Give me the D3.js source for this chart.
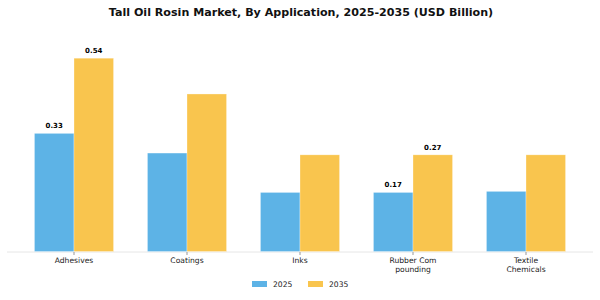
<!DOCTYPE html>
<html>
<head>
<meta charset="utf-8">
<script src="https://cdn.jsdelivr.net/npm/d3@7"></script>
<style>
  body { margin: 0; background: #fff; }
  svg { display: block; font-family: "DejaVu Sans", sans-serif; }
</style>
</head>
<body>
<div id="chart"></div>
<script>
// datos del gráfico
const categories = ['Adhesives', 'Coatings', 'Inks', 'Rubber Compounding', 'Textile Chemicals'];
const tickLines = [['Adhesives'], ['Coatings'], ['Inks'], ['Rubber Com', 'pounding'], ['Textile', 'Chemicals']];
const seriesNames = ['2025', '2035'];
const values2025 = [0.33, 0.275, 0.165, 0.165, 0.168];
const values2035 = [0.54, 0.44, 0.27, 0.27, 0.27];
// qué barras llevan etiqueta
const labeled = ['Adhesives', 'Rubber Compounding'];

const colors = { '2025': '#5DB3E6', '2035': '#F9C54E' };
const width = 600;
const height = 300;

const svg = d3.select('#chart').append('svg')
    .attr('width', width)
    .attr('height', height);

// título
svg.append('text')
    .attr('x', 301)
    .attr('y', 16)
    .attr('text-anchor', 'middle')
    .style('font-size', '11.1px')
    .style('font-weight', 'bold')
    .attr('fill', '#111')
    .text('Tall Oil Rosin Market, By Application, 2025-2035 (USD Billion)');

const x0 = d3.scaleBand()
    .domain(categories)
    .range([17.5, 582.5])
    .paddingInner(0.3)
    .paddingOuter(0.15);

const x1 = d3.scaleBand()
    .domain(seriesNames)
    .range([0, x0.bandwidth()]);

const y = d3.scaleLinear()
    .domain([0, 0.6])
    .range([251.5, 251.5 - 0.6 * 358]);

const rows = categories.map((c, i) => ({
    category: c,
    values: [
        { key: '2025', value: values2025[i] },
        { key: '2035', value: values2035[i] }
    ]
}));

// línea base
svg.append('line')
    .attr('x1', 7).attr('x2', 593)
    .attr('y1', 252).attr('y2', 252)
    .attr('stroke', '#e6e6e6')
    .attr('stroke-width', 1);

const groups = svg.selectAll('g.group')
    .data(rows)
    .enter().append('g')
    .attr('class', 'group')
    .attr('transform', d => `translate(${x0(d.category)},0)`);

groups.selectAll('rect')
    .data(d => d.values)
    .enter().append('rect')
    .attr('x', d => x1(d.key))
    .attr('y', d => y(d.value))
    .attr('width', x1.bandwidth())
    .attr('height', d => y(0) - y(d.value))
    .attr('fill', d => colors[d.key])
    .attr('stroke', '#ffffff')
    .attr('stroke-opacity', 0.5)
    .attr('stroke-width', 0.6);

groups.filter(d => labeled.includes(d.category))
    .selectAll('text.val')
    .data(d => d.values)
    .enter().append('text')
    .attr('class', 'val')
    .attr('x', d => x1(d.key) + x1.bandwidth() / 2)
    .attr('y', d => y(d.value) - 5)
    .attr('text-anchor', 'middle')
    .style('font-size', '7px')
    .style('font-weight', 'bold')
    .text(d => d3.format('.2f')(d.value));

// marcas y etiquetas del eje x
const ticks = svg.selectAll('g.tick')
    .data(categories)
    .enter().append('g')
    .attr('class', 'tick')
    .attr('transform', d => `translate(${x0(d) + x0.bandwidth() / 2},0)`);

ticks.append('line')
    .attr('y1', 252).attr('y2', 255)
    .attr('stroke', '#999');

ticks.append('text')
    .attr('text-anchor', 'middle')
    .style('font-size', '7.6px')
    .attr('fill', '#222')
    .selectAll('tspan')
    .data((d, i) => tickLines[i])
    .enter().append('tspan')
    .attr('x', 0)
    .attr('y', (d, j) => 263 + j * 9)
    .text(d => d);

// leyenda
const legend = svg.append('g');
const legendX = [252, 308];
seriesNames.forEach((s, i) => {
    legend.append('rect')
        .attr('x', legendX[i])
        .attr('y', 281)
        .attr('width', 15)
        .attr('height', 6)
        .attr('fill', colors[s]);
    legend.append('text')
        .attr('x', legendX[i] + 21)
        .attr('y', 287)
        .style('font-size', '7.6px')
        .attr('fill', '#222')
        .text(s);
});
</script>
</body>
</html>
